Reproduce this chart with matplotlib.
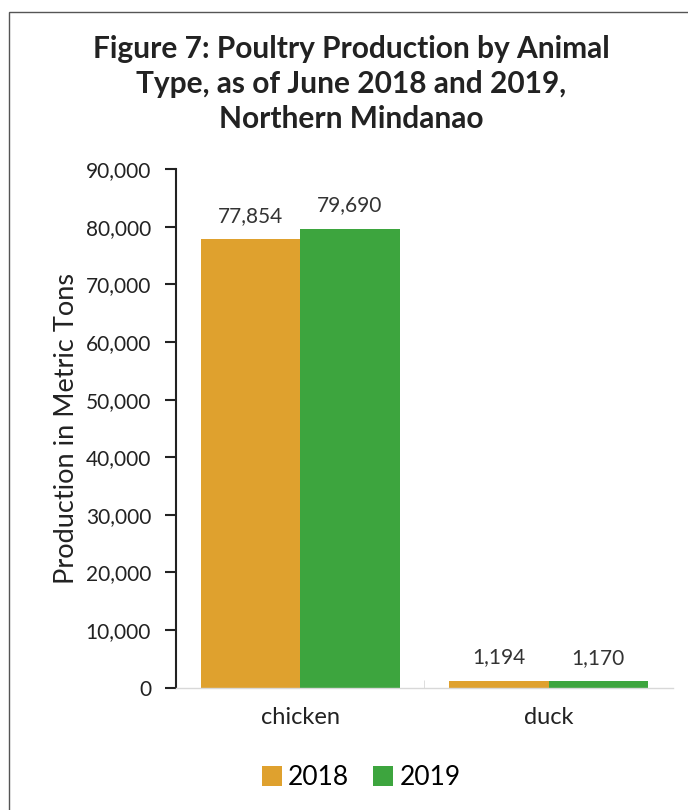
import numpy as np
import matplotlib.pyplot as plt
from matplotlib.patches import Rectangle
from matplotlib.ticker import FuncFormatter

# poultry production, metric tons
animals = ["chicken", "duck"]
years = ["2018", "2019"]
prod_2018 = [77854, 1194]
prod_2019 = [79690, 1170]

colors = {"2018": "#DFA12E", "2019": "#3DA53E"}

plt.rcParams["font.family"] = ["Lato", "DejaVu Sans"]

fig = plt.figure(figsize=(6.88, 8.10), dpi=100)
ax = fig.add_axes([0.256, 0.151, 0.722, 0.640])

x = np.arange(len(animals))
w = 0.4
b1 = ax.bar(x - w / 2, prod_2018, w, color=colors["2018"], label="2018")
b2 = ax.bar(x + w / 2, prod_2019, w, color=colors["2019"], label="2019")

for bars in (b1, b2):
    for rect in bars:
        v = rect.get_height()
        ax.text(rect.get_x() + rect.get_width() / 2, v + 2300, f"{v:,.0f}",
                ha="center", va="bottom", fontsize=15, color="#333333")

ax.set_xlim(-0.5, 1.5)
ax.set_ylim(0, 90000)
ax.set_yticks(np.arange(0, 90001, 10000))
ax.yaxis.set_major_formatter(FuncFormatter(lambda v, p: f"{v:,.0f}"))
ax.set_xticks(x)
ax.set_xticklabels(animals, fontsize=17, color="#222222")
ax.set_xticks([0.5], minor=True)
ax.tick_params(axis="x", which="major", length=0, pad=14)
ax.tick_params(axis="x", which="minor", length=6, color="#d8d8d8", direction="in")
ax.tick_params(axis="y", length=8, width=1.5, color="#222222", pad=10,
               labelsize=15, labelcolor="#222222")

for s in ("top", "right"):
    ax.spines[s].set_visible(False)
ax.spines["left"].set_linewidth(1.5)
ax.spines["left"].set_color("#222222")
ax.spines["bottom"].set_color("#d8d8d8")
ax.spines["bottom"].set_linewidth(1)

ax.set_ylabel("Production in Metric Tons", fontsize=19.5, color="#222222", labelpad=5)

fig.text(0.51, 0.957, "Figure 7: Poultry Production by Animal\nType, as of June 2018 and 2019,\nNorthern Mindanao",
         ha="center", va="top", fontsize=21.5, fontweight="bold", color="#222222",
         linespacing=1.3)

fig.legend(handles=[b1, b2], labels=years, loc="center", bbox_to_anchor=(0.525, 0.040),
           ncol=2, frameon=False, fontsize=19, handlelength=0.75, handleheight=0.75,
           handletextpad=0.25, columnspacing=0.9)

# outer frame
fig.patches.append(Rectangle((0.013, -0.1), 1.2, 1.085, transform=fig.transFigure,
                             fill=False, edgecolor="#555555", linewidth=1.0))

fig.savefig("out.png", dpi=100)
